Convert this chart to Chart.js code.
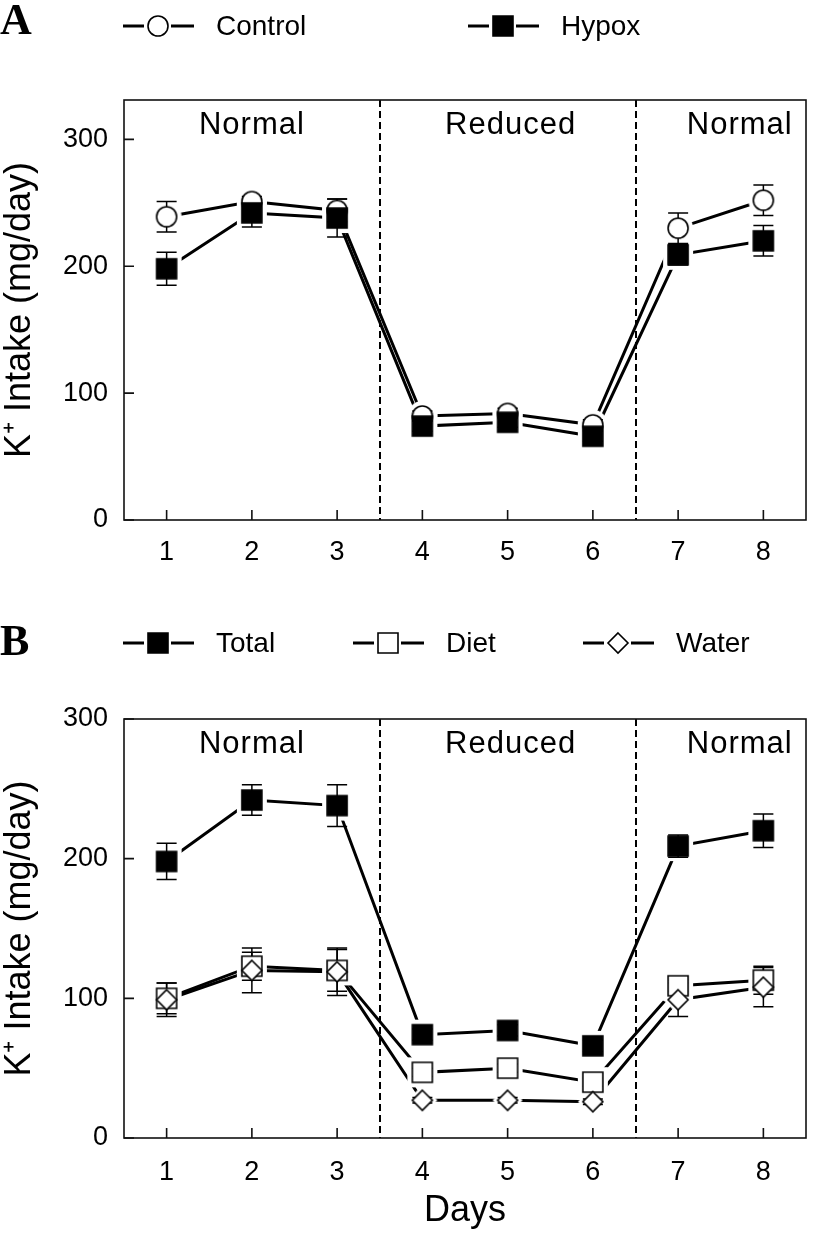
<!DOCTYPE html>
<html>
<head>
<meta charset="utf-8">
<script src="https://cdn.jsdelivr.net/npm/chart.js@4"></script>
<style>
  html, body { margin: 0; padding: 0; background: #fff; }
  .panel { position: relative; width: 817px; }
  #panelA { height: 600px; }
  #panelB { height: 637px; }
</style>
</head>
<body>
<div class="panel" id="panelA"><canvas id="chartA"></canvas></div>
<div class="panel" id="panelB"><canvas id="chartB"></canvas></div>
<script>
// data
const days = [1, 2, 3, 4, 5, 6, 7, 8];
const yTicks = [0, 100, 200, 300];
const phaseBounds = [0.5, 3.5, 6.5, 8.5];
const phaseLabels = ["Normal", "Reduced", "Normal"];

const seriesA = ["Control", "Hypox"];
const controlK = [239, 251, 244, 82, 84, 75, 230, 252];
const controlErr = [12, 4, 9, 4, 4, 4, 12, 12];
const hypoxK = [198, 242, 238, 74, 77, 66, 209, 220];
const hypoxErr = [13, 11, 15, 4, 4, 4, 8, 12];

const seriesB = ["Total", "Diet", "Water"];
const totalK = [198, 242, 238, 74, 77, 66, 209, 220];
const totalErr = [13, 11, 15, 4, 4, 4, 8, 12];
const dietK = [100, 123, 120, 47, 50, 40, 109, 113];
const dietErr = [11, 10, 15, 3, 3, 3, 4, 10];
const waterK = [99, 120, 119, 27, 27, 26, 99, 108];
const waterErr = [12, 16, 17, 2, 2, 2, 12, 14];

const SANS = "'Liberation Sans', Arial, Helvetica, sans-serif";
const MR = 10; // marker half size

function tracePath(ctx, shape, x, y, s) {
  ctx.beginPath();
  if (shape === "circle") {
    ctx.arc(x, y, s, 0, Math.PI * 2);
  } else if (shape === "diamond") {
    ctx.moveTo(x, y - s);
    ctx.lineTo(x + s, y);
    ctx.lineTo(x, y + s);
    ctx.lineTo(x - s, y);
    ctx.closePath();
  } else {
    ctx.rect(x - s, y - s, 2 * s, 2 * s);
  }
}

function paintMarker(ctx, shape, x, y) {
  tracePath(ctx, shape, x, y, MR);
  ctx.fillStyle = shape === "square" ? "#000" : "#fff";
  ctx.fill();
  ctx.lineWidth = 1.6;
  ctx.strokeStyle = "#000";
  ctx.stroke();
}

// pointStyle images: a white knock-out (gap round the symbol) or the symbol itself
function markerImage(shape, knock) {
  const pad = knock ? 7 : 2;
  const size = 2 * (MR + pad);
  const c = document.createElement("canvas");
  c.width = c.height = size;
  const ctx = c.getContext("2d");
  if (knock) {
    tracePath(ctx, shape, size / 2, size / 2, MR + 5);
    ctx.fillStyle = "#fff";
    ctx.fill();
  } else {
    paintMarker(ctx, shape, size / 2, size / 2);
  }
  return c;
}

function layers(values, errors, shape, order) {
  const pts = days.map((d, i) => ({ x: d, y: values[i] }));
  return [
    { data: pts, layer: "line", order: 30, borderColor: "#000", borderWidth: 3,
      pointRadius: 0, fill: false, tension: 0 },
    { data: pts, layer: "knock", order: 20, showLine: false,
      pointStyle: markerImage(shape, true), pointRadius: MR },
    { data: pts, layer: "mark", order: order, showLine: false, errors: errors,
      pointStyle: markerImage(shape, false), pointRadius: MR }
  ];
}

const decorPlugin = {
  id: "decor",
  beforeDatasetsDraw(chart) {
    const { ctx, chartArea: a, scales: { x, y } } = chart;
    const o = chart.options.plugins.decor;
    ctx.save();
    // phase dividers
    ctx.strokeStyle = "#000";
    ctx.lineWidth = 2;
    ctx.setLineDash([7, 4]);
    phaseBounds.slice(1, -1).forEach(b => {
      const px = Math.round(x.getPixelForValue(b));
      ctx.beginPath();
      ctx.moveTo(px, a.top);
      ctx.lineTo(px, a.bottom);
      ctx.stroke();
    });
    ctx.setLineDash([]);
    // phase names
    ctx.fillStyle = "#000";
    ctx.font = "31px " + SANS;
    ctx.letterSpacing = "1px";
    ctx.textAlign = "center";
    ctx.textBaseline = "middle";
    phaseLabels.forEach((t, i) => {
      const cx = x.getPixelForValue((phaseBounds[i] + phaseBounds[i + 1]) / 2) + o.phaseNudge[i];
      ctx.fillText(t, cx, a.top + 25);
    });
    ctx.restore();
    chart._errDone = false;
  },
  beforeDatasetDraw(chart, args) {
    const ds = chart.data.datasets[args.index];
    if (ds.layer !== "mark" || chart._errDone) return;
    chart._errDone = true;
    const { ctx, scales: { x, y } } = chart;
    ctx.save();
    ctx.strokeStyle = "#000";
    ctx.lineWidth = 1.5;
    chart.data.datasets.forEach(d => {
      if (d.layer !== "mark") return;
      d.data.forEach((p, i) => {
        const px = x.getPixelForValue(p.x);
        const y1 = y.getPixelForValue(p.y + d.errors[i]);
        const y2 = y.getPixelForValue(p.y - d.errors[i]);
        ctx.beginPath();
        ctx.moveTo(px, y1); ctx.lineTo(px, y2);
        ctx.moveTo(px - 10, y1); ctx.lineTo(px + 10, y1);
        ctx.moveTo(px - 10, y2); ctx.lineTo(px + 10, y2);
        ctx.stroke();
      });
    });
    ctx.restore();
  },
  afterDraw(chart) {
    const { ctx, chartArea: a, scales: { x, y } } = chart;
    const o = chart.options.plugins.decor;
    ctx.save();
    // frame and inward ticks
    ctx.strokeStyle = "#111";
    ctx.lineWidth = 1.6;
    ctx.strokeRect(a.left, a.top, a.right - a.left, a.bottom - a.top);
    ctx.beginPath();
    y.ticks.forEach(t => {
      const py = y.getPixelForValue(t.value);
      ctx.moveTo(a.left, py); ctx.lineTo(a.left + 10, py);
    });
    x.ticks.forEach(t => {
      const px = x.getPixelForValue(t.value);
      ctx.moveTo(px, a.bottom); ctx.lineTo(px, a.bottom - 10);
    });
    ctx.stroke();
    // panel letter
    ctx.fillStyle = "#000";
    ctx.font = "bold 44px 'Liberation Serif', 'Times New Roman', serif";
    ctx.textBaseline = "alphabetic";
    ctx.textAlign = "left";
    ctx.fillText(o.letter, 0, o.letterY);
    // legend
    ctx.font = "28px " + SANS;
    ctx.textBaseline = "middle";
    o.legend.forEach(it => {
      ctx.strokeStyle = "#000";
      ctx.lineWidth = 3;
      ctx.beginPath();
      ctx.moveTo(it.x, o.legendY); ctx.lineTo(it.x + 21, o.legendY);
      ctx.moveTo(it.x + 48, o.legendY); ctx.lineTo(it.x + 71, o.legendY);
      ctx.stroke();
      paintMarker(ctx, it.shape, it.x + 35, o.legendY);
      ctx.fillStyle = "#000";
      ctx.fillText(it.label, it.x + 93, o.legendY + 1);
    });
    ctx.restore();
  }
};

function makeChart(id, datasets, cfg) {
  return new Chart(document.getElementById(id), {
    type: "line",
    data: { datasets },
    plugins: [decorPlugin],
    options: {
      responsive: true,
      maintainAspectRatio: false,
      animation: false,
      devicePixelRatio: 1,
      layout: { padding: { top: cfg.top, right: 2, left: 0, bottom: 0 } },
      plugins: {
        legend: { display: false },
        tooltip: { enabled: false },
        decor: cfg.decor
      },
      scales: {
        x: {
          type: "linear",
          min: 0.5,
          max: 8.5,
          afterBuildTicks: s => { s.ticks = days.map(v => ({ value: v })); },
          afterFit: s => { s.height = cfg.xHeight; },
          grid: { display: false, drawTicks: false },
          border: { display: false },
          ticks: { color: "#000", padding: cfg.xPad, font: { family: SANS, size: 27 } },
          title: cfg.xTitle
        },
        y: {
          type: "linear",
          min: 0,
          max: cfg.yMax,
          afterBuildTicks: s => { s.ticks = yTicks.map(v => ({ value: v })); },
          afterFit: s => { s.width = 124; },
          grid: { display: false, drawTicks: false },
          border: { display: false },
          ticks: { color: "#000", padding: 16, font: { family: SANS, size: 27 } },
          title: {
            display: true,
            text: "K\u207A Intake (mg/day)",
            color: "#000",
            padding: { top: 2, bottom: 0 },
            font: { family: SANS, size: 36, lineHeight: 1 }
          }
        }
      }
    }
  });
}

makeChart("chartA", [
  ...layers(controlK, controlErr, "circle", 11),
  ...layers(hypoxK, hypoxErr, "square", 10)
], {
  top: 100, xHeight: 80, xPad: 16, yMax: 331,
  xTitle: { display: false },
  decor: {
    letter: "A", letterY: 34, legendY: 26, phaseNudge: [0, 3, 19],
    legend: [
      { label: seriesA[0], shape: "circle", x: 123 },
      { label: seriesA[1], shape: "square", x: 468 }
    ]
  }
});

makeChart("chartB", [
  ...layers(totalK, totalErr, "square", 10),
  ...layers(dietK, dietErr, "openSquare", 12),
  ...layers(waterK, waterErr, "diamond", 11)
], {
  top: 119, xHeight: 99, xPad: 18, yMax: 300,
  xTitle: {
    display: true, text: "Days", color: "#000",
    padding: { top: 0, bottom: 8 },
    font: { family: SANS, size: 36, lineHeight: 1 }
  },
  decor: {
    letter: "B", letterY: 55, legendY: 43, phaseNudge: [0, 3, 19],
    legend: [
      { label: seriesB[0], shape: "square", x: 123 },
      { label: seriesB[1], shape: "openSquare", x: 353 },
      { label: seriesB[2], shape: "diamond", x: 583 }
    ]
  }
});
</script>
</body>
</html>
